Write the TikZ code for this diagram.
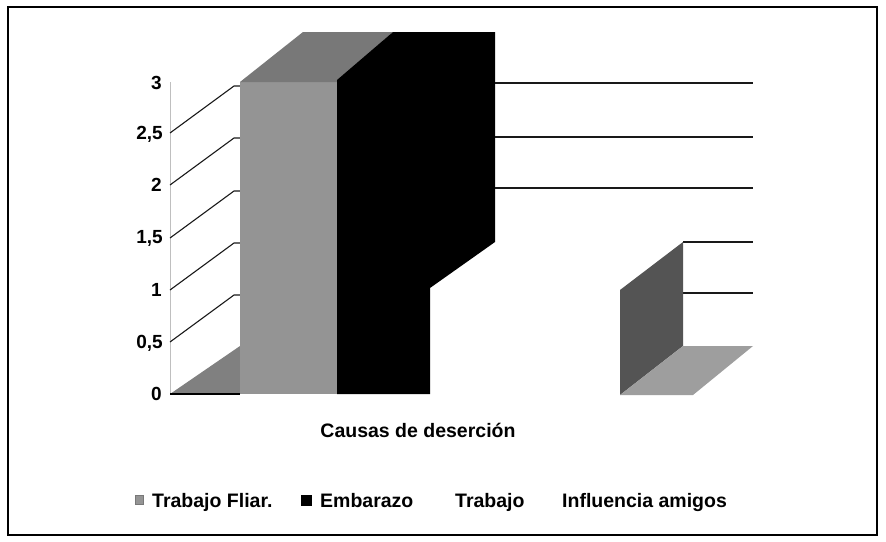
\documentclass[tikz,border=0pt]{standalone}
\usepackage{fontspec}
\setmainfont{Liberation Sans}
\usetikzlibrary{positioning}
\definecolor{grisfrente}{gray}{0.58}
\definecolor{gristecho}{gray}{0.47}
\definecolor{grissuelo}{gray}{0.50}
\definecolor{grisoscuro}{gray}{0.33}
\definecolor{grisclaro}{gray}{0.62}
\tikzstyle{eje} = [font=\bfseries\fontsize{19}{22}\selectfont, anchor=base east, inner sep=0pt]
\tikzstyle{leyenda} = [font=\bfseries\fontsize{19.5}{23}\selectfont, anchor=base west, inner sep=0pt]
\tikzstyle{rejilla} = [draw=black!90, line width=1.1pt]
\tikzstyle{marca} = [rectangle, inner sep=0pt]

\begin{document}
\begin{tikzpicture}[x=1pt, y=-1pt]
      \useasboundingbox (0,0) rectangle (886,541);
      \fill[white] (0,0) rectangle (886,541);
      \draw[line width=1.2pt] (8,7) rectangle (877,535);
      % eje vertical y lineas oblicuas
      \draw[black!25, line width=0.6pt] (170,82) -- (170,394);
      \draw[rejilla] (170,342) -- (234,295) -- (240,295);
      \draw[rejilla] (170,290) -- (234,243) -- (240,243);
      \draw[rejilla] (170,238) -- (234,191) -- (240,191);
      \draw[rejilla] (170,185) -- (234,138) -- (240,138);
      \draw[rejilla] (170,133) -- (234,86) -- (240,86);
      \fill[grissuelo] (170,394) -- (240,346) -- (240,394) -- cycle;
      \draw[line width=1.2pt] (170,394) -- (240,394);
      % barra Trabajo Fliar.
      \fill[grisfrente] (240,82) rectangle (337,394);
      \fill[gristecho] (240,82) -- (303,32) -- (393,32) -- (337,82) -- cycle;
      % barra Embarazo
      \fill[black] (337,394) -- (337,80) -- (393,32) -- (495,32) -- (495,242) -- (430,288) -- (430,394) -- cycle;
      % pared del fondo
      \draw[rejilla] (495,83) -- (753,83);
      \draw[rejilla] (495,137) -- (753,137);
      \draw[rejilla] (495,188) -- (753,188);
      \draw[rejilla] (683,242) -- (753,242);
      \draw[rejilla] (683,293) -- (753,293);
      % barra Influencia amigos
      \fill[grisoscuro] (620,395) -- (620,290) -- (683,242) -- (683,346) -- cycle;
      \fill[grisclaro] (620,395) -- (693,395) -- (753,346) -- (683,346) -- cycle;
      % etiquetas del eje
      \node (y3) [eje] at (162,89) {3};
      \node (y25) [eje] at (163,139) {2,5};
      \node (y2) [eje] at (162,191) {2};
      \node (y15) [eje] at (163,243) {1,5};
      \node (y1) [eje] at (162,296) {1};
      \node (y05) [eje] at (163,348) {0,5};
      \node (y0) [eje] at (162,400) {0};
      % titulo del eje y leyenda
      \node (causas) [leyenda, anchor=base] at (418,437) {Causas de deserción};
      \node (mfliar) [marca, fill=grisfrente, draw=gristecho, minimum width=8pt, minimum height=9pt] at (139,500) {};
      \node (tfliar) [leyenda] at (152,507) {Trabajo Fliar.};
      \node (membarazo) [marca, fill=black, minimum size=11pt] at (306,500) {};
      \node (tembarazo) [leyenda] at (320,507) {Embarazo};
      \node (ttrabajo) [leyenda] at (455,507) {Trabajo};
      \node (tamigos) [leyenda] at (562,507) {Influencia amigos};
    \end{tikzpicture}
\end{document}
